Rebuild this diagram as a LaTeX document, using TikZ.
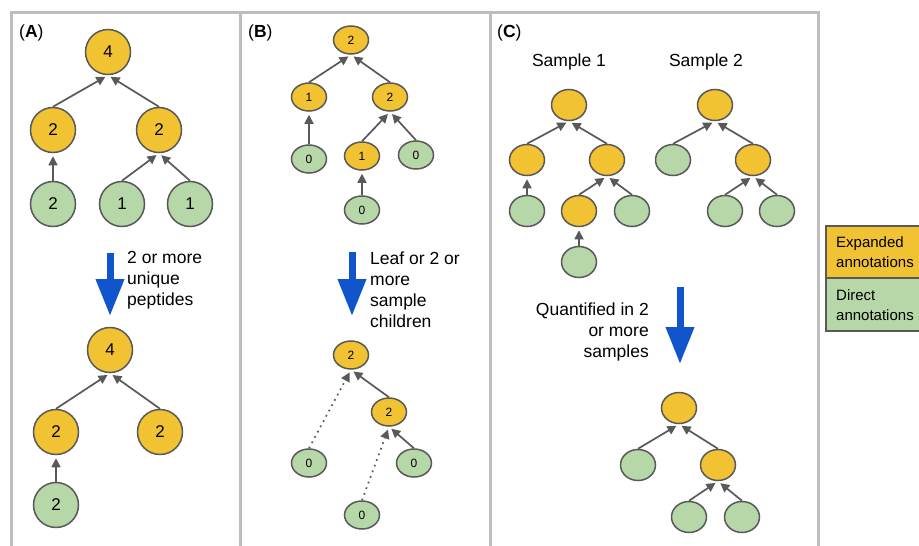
\documentclass[tikz,border=0pt]{standalone}
\usepackage{fontspec}
\setmainfont{Liberation Sans}
\usetikzlibrary{arrows.meta,shapes.geometric}
\definecolor{expc}{HTML}{F1C232}
\definecolor{dirc}{HTML}{B6D7A8}
\definecolor{edgec}{HTML}{595959}
\definecolor{linkc}{HTML}{595959}
\definecolor{bluec}{HTML}{1155CC}
\definecolor{framec}{HTML}{BDBDBD}

\begin{document}
\begin{tikzpicture}[x=1pt,y=-1pt,
    font=\fontsize{17.5}{21}\selectfont,
    expnode/.style={draw=edgec,line width=1.5pt,fill=expc,inner sep=0pt},
    dirnode/.style={draw=edgec,line width=1.5pt,fill=dirc,inner sep=0pt},
    bignode/.style={circle,minimum size=45pt,font=\fontsize{17}{20}\selectfont},
    smallnode/.style={ellipse,minimum width=35pt,minimum height=28pt,font=\fontsize{12}{14}\selectfont},
    cnode/.style={ellipse,minimum width=35pt,minimum height=31pt},
    link/.style={draw=linkc,line width=1.7pt,shorten >=3pt,-{Triangle[length=9pt,width=9pt]}},
    dotlink/.style={link,dash pattern=on 1.7pt off 4.3pt},
    bigarrow/.style={draw=bluec,line width=7pt,-{Triangle[length=37pt,width=27pt]}},
    frame/.style={draw=framec,line width=3pt},
    legbox/.style={draw=edgec,line width=1.5pt},
    textblock/.style={inner sep=0pt,align=left},
  ]
    \useasboundingbox (0,0) rectangle (919,546);
    \fill[white] (0,0) rectangle (919,546);
    \clip (0,0) rectangle (919,546);

    % panel frames
    \draw[frame] (11,12) rectangle (818,600);
    \draw[frame] (240,12) -- (240,600);
    \draw[frame] (490,12) -- (490,600);

    \node[textblock,anchor=west] (labA) at (19,33) {(\textbf{A})};
    \node[textblock,anchor=west] (labB) at (248,33) {(\textbf{B})};
    \node[textblock,anchor=west] (labC) at (497,33) {(\textbf{C})};

    % (A) before
    \node[expnode,bignode] (a1) at (108,52) {4};
    \node[expnode,bignode] (a2) at (53,130) {2};
    \node[expnode,bignode] (a3) at (159,130) {2};
    \node[dirnode,bignode] (a4) at (53,204) {2};
    \node[dirnode,bignode] (a5) at (122,204) {1};
    \node[dirnode,bignode] (a6) at (190,204) {1};
    \draw[link] (a2.north) -- (a1.south);
    \draw[link] (a3.north) -- (a1.south);
    \draw[link] (a4.north) -- (a2.south);
    \draw[link] (a5.north) -- (a3.south);
    \draw[link] (a6.north) -- (a3.south);

    \coordinate (arrA-top) at (110,253);
    \coordinate (arrA-tip) at (110,316);
    \draw[bigarrow] (arrA-top) -- (arrA-tip);
    \node[textblock,anchor=west] (txtA) at (127,280) {2 or more\\unique\\peptides};

    % (A) after
    \node[expnode,bignode] (b1) at (110,350) {4};
    \node[expnode,bignode] (b2) at (56,432) {2};
    \node[expnode,bignode] (b3) at (160,432) {2};
    \node[dirnode,bignode] (b4) at (56,505) {2};
    \draw[link] (b2.north) -- (b1.south);
    \draw[link] (b3.north) -- (b1.south);
    \draw[link] (b4.north) -- (b2.south);

    % (B) before
    \node[expnode,smallnode] (c1) at (351,40) {2};
    \node[expnode,smallnode] (c2) at (309,97) {1};
    \node[expnode,smallnode] (c3) at (390,97) {2};
    \node[dirnode,smallnode] (c4) at (309,159) {0};
    \node[expnode,smallnode] (c5) at (362,156) {1};
    \node[dirnode,smallnode] (c6) at (416,155) {0};
    \node[dirnode,smallnode] (c7) at (362,210) {0};
    \draw[link] (c2.north) -- (c1.south);
    \draw[link] (c3.north) -- (c1.south);
    \draw[link] (c4.north) -- (c2.south);
    \draw[link] (c5.north) -- (c3.south);
    \draw[link] (c6.north) -- (c3.south);
    \draw[link] (c7.north) -- (c5.south);

    \coordinate (arrB-top) at (352,252);
    \coordinate (arrB-tip) at (352,316);
    \draw[bigarrow] (arrB-top) -- (arrB-tip);
    \node[textblock,anchor=west] (txtB) at (370,290) {Leaf or 2 or\\more\\sample\\children};

    % (B) after
    \node[expnode,smallnode] (d1) at (351,355) {2};
    \node[expnode,smallnode] (d2) at (389,412) {2};
    \node[dirnode,smallnode] (d3) at (309,463) {0};
    \node[dirnode,smallnode] (d4) at (414,463) {0};
    \node[dirnode,smallnode] (d5) at (362,515) {0};
    \draw[link] (d2.north) -- (d1.south);
    \draw[dotlink] (d3.north) -- (d1.south);
    \draw[link] (d4.north) -- (d2.south);
    \draw[dotlink] (d5.north) -- (d2.south);

    % (C) sample 1
    \node[textblock] (s1) at (569,62) {Sample 1};
    \node[expnode,cnode] (e1) at (569,105) {};
    \node[expnode,cnode] (e2) at (527,160) {};
    \node[expnode,cnode] (e3) at (607,160) {};
    \node[dirnode,cnode] (e4) at (527,211) {};
    \node[expnode,cnode] (e5) at (579,211) {};
    \node[dirnode,cnode] (e6) at (632,211) {};
    \node[dirnode,cnode] (e7) at (579,262) {};
    \draw[link] (e2.north) -- (e1.south);
    \draw[link] (e3.north) -- (e1.south);
    \draw[link] (e4.north) -- (e2.south);
    \draw[link] (e5.north) -- (e3.south);
    \draw[link] (e6.north) -- (e3.south);
    \draw[link] (e7.north) -- (e5.south);

    % (C) sample 2
    \node[textblock] (s2) at (706,62) {Sample 2};
    \node[expnode,cnode] (f1) at (715,105) {};
    \node[dirnode,cnode] (f2) at (673,160) {};
    \node[expnode,cnode] (f3) at (753,160) {};
    \node[dirnode,cnode] (f4) at (725,211) {};
    \node[dirnode,cnode] (f5) at (777,211) {};
    \draw[link] (f2.north) -- (f1.south);
    \draw[link] (f3.north) -- (f1.south);
    \draw[link] (f4.north) -- (f3.south);
    \draw[link] (f5.north) -- (f3.south);

    \coordinate (arrC-top) at (680,287);
    \coordinate (arrC-tip) at (680,364);
    \draw[bigarrow] (arrC-top) -- (arrC-tip);
    \node[textblock,align=right,anchor=east] (txtC) at (649,332) {Quantified in 2\\or more\\samples};

    % (C) after
    \node[expnode,cnode] (g1) at (679,408) {};
    \node[dirnode,cnode] (g2) at (638,465) {};
    \node[expnode,cnode] (g3) at (718,465) {};
    \node[dirnode,cnode] (g4) at (689,517) {};
    \node[dirnode,cnode] (g5) at (742,517) {};
    \draw[link] (g2.north) -- (g1.south);
    \draw[link] (g3.north) -- (g1.south);
    \draw[link] (g4.north) -- (g3.south);
    \draw[link] (g5.north) -- (g3.south);

    % legend
    \draw[legbox,fill=expc] (826,226) rectangle (935,278);
    \draw[legbox,fill=dirc] (826,278) rectangle (935,331);
    \node[textblock,anchor=west,font=\fontsize{15}{20}\selectfont] (legexp) at (836,252) {Expanded\\annotations};
    \node[textblock,anchor=west,font=\fontsize{15}{20}\selectfont] (legdir) at (836,305) {Direct\\annotations};
\end{tikzpicture}
\end{document}
